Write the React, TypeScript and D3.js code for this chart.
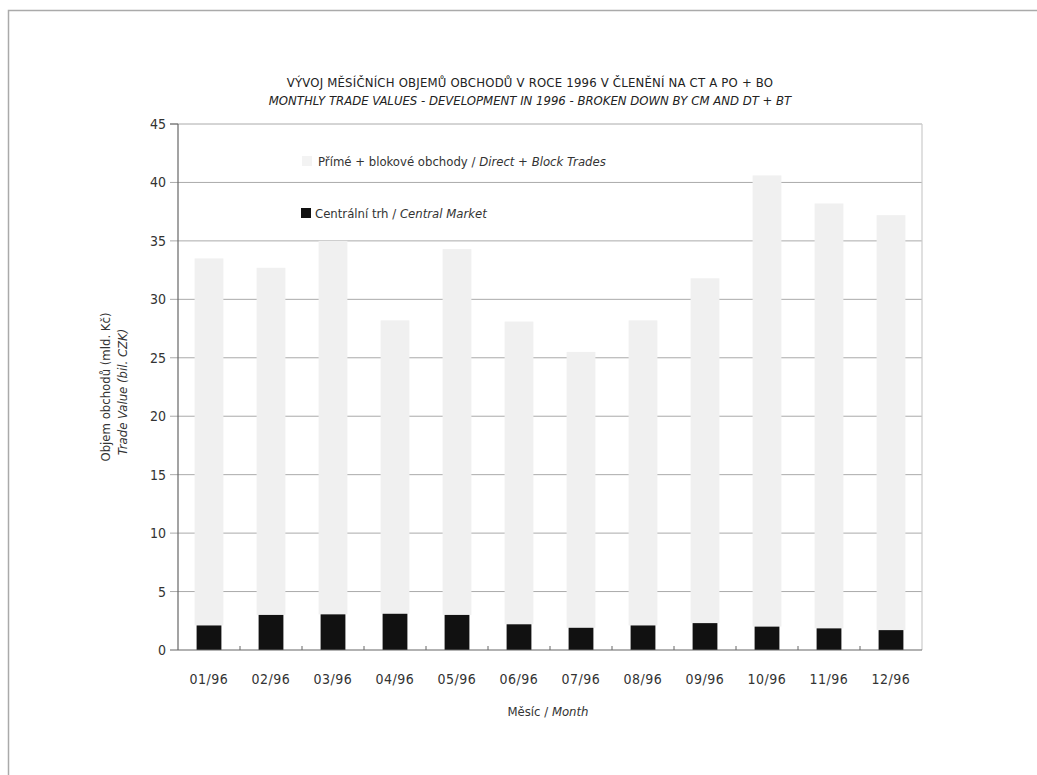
import React from "react";
import * as d3 from "d3";

const months = ["01/96", "02/96", "03/96", "04/96", "05/96", "06/96", "07/96", "08/96", "09/96", "10/96", "11/96", "12/96"];
const centralMarket = [2.1, 3.0, 3.05, 3.1, 3.0, 2.2, 1.9, 2.1, 2.3, 2.0, 1.85, 1.7];
const totalTrades = [33.5, 32.7, 35.0, 28.2, 34.3, 28.1, 25.5, 28.2, 31.8, 40.6, 38.2, 37.2];
const yTicks = [0, 5, 10, 15, 20, 25, 30, 35, 40, 45];

const FONT = "'Liberation Sans Narrow', 'DejaVu Sans Condensed', 'Open Sans', sans-serif";
const W = 1037, H = 775;
const M = { left: 178, right: 922, top: 124, bottom: 650 };

export default function App() {
  const x = d3.scaleBand<string>().domain(months).range([M.left, M.right]).paddingInner(0.6).paddingOuter(0.3);
  const xb = d3.scaleBand<string>().domain(months).range([M.left, M.right]);
  const y = d3.scaleLinear().domain([0, 45]).range([M.bottom, M.top]);
  const txt = "#333";
  return (
    <svg width={W} height={H} style={{ position: "absolute", left: 0, top: 0, background: "#fff" }} fontFamily={FONT}>
      <rect x={0} y={0} width={W} height={H} fill="#fff" />
      <path d={`M8.5,${H} V10.5 H${W}`} fill="none" stroke="#aaa" strokeWidth={1.5} />
      <text x={530} y={87} textAnchor="middle" fontSize={13} fill="#222" letterSpacing={0.2}>VÝVOJ MĚSÍČNÍCH OBJEMŮ OBCHODŮ V ROCE 1996 V ČLENĚNÍ NA CT A PO + BO</text>
      <text x={530} y={105} textAnchor="middle" fontSize={13} fill="#222" fontStyle="italic">MONTHLY TRADE VALUES - DEVELOPMENT IN 1996 - BROKEN DOWN BY CM AND DT + BT</text>
      {yTicks.map((t) => (
        <g key={t}>
          {t > 0 && <line x1={M.left - 8} x2={M.right} y1={y(t)} y2={y(t)} stroke="#aaa" strokeWidth={1} />}
          <text x={166} y={y(t) + 5} textAnchor="end" fontSize={14} fill={txt}>{t}</text>
        </g>
      ))}
      {months.map((m, i) => (
        <rect key={"g" + m} x={x(m)! - 2} width={x.bandwidth() + 4} y={y(totalTrades[i])} height={y(centralMarket[i]) - y(totalTrades[i])} fill="#f0f0f0" />
      ))}
      {months.map((m, i) => (
        <rect key={"b" + m} x={x(m)!} width={x.bandwidth()} y={y(centralMarket[i])} height={M.bottom - y(centralMarket[i])} fill="#111" />
      ))}
      <line x1={M.left} x2={M.left} y1={M.top} y2={M.bottom} stroke="#666" strokeWidth={1.2} />
      <line x1={M.right} x2={M.right} y1={M.top} y2={M.bottom} stroke="#ccc" strokeWidth={1.2} />
      <line x1={M.left - 8} x2={M.right} y1={M.bottom} y2={M.bottom} stroke="#666" strokeWidth={1.2} />
      <line x1={M.left - 8} x2={M.left} y1={M.top} y2={M.top} stroke="#666" strokeWidth={1} />
      {months.slice(1).map((m) => (
        <line key={"t" + m} x1={xb(m)!} x2={xb(m)!} y1={M.bottom} y2={M.bottom - 4} stroke="#666" />
      ))}
      {months.map((m) => (
        <text key={"l" + m} x={xb(m)! + xb.bandwidth() / 2} y={684} textAnchor="middle" fontSize={14} fill={txt} letterSpacing={0.5}>{m}</text>
      ))}
      <text x={548} y={716} textAnchor="middle" fontSize={13} fill={txt}>Měsíc / <tspan fontStyle="italic">Month</tspan></text>
      <text transform={`translate(110,387) rotate(-90)`} textAnchor="middle" fontSize={13} fill={txt}>Objem obchodů (mld. Kč)</text>
      <text transform={`translate(127,392) rotate(-90)`} textAnchor="middle" fontSize={13} fill={txt} fontStyle="italic">Trade Value (bil. CZK)</text>
      <rect x={302} y={156} width={10} height={10} fill="#f3f3f3" />
      <text x={318} y={166} fontSize={13} fill={txt}>Přímé + blokové obchody / <tspan fontStyle="italic">Direct + Block Trades</tspan></text>
      <rect x={301} y={208} width={10} height={10} fill="#111" />
      <text x={315} y={218} fontSize={13} fill={txt}>Centrální trh / <tspan fontStyle="italic">Central Market</tspan></text>
    </svg>
  );
}
